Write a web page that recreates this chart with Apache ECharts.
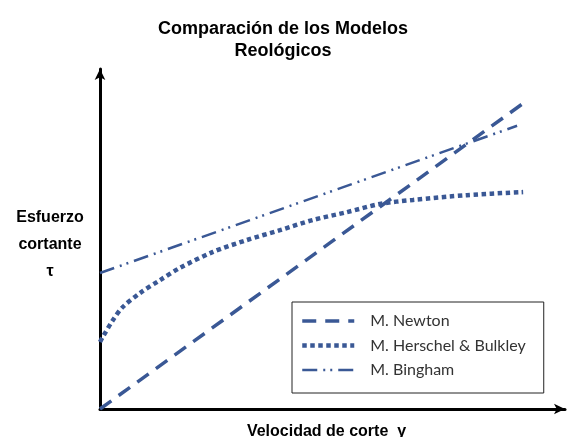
<!DOCTYPE html>
<html>
<head>
<meta charset="utf-8">
<script src="https://cdn.jsdelivr.net/npm/echarts@6/dist/echarts.min.js"></script>
<style>
  html, body { margin: 0; padding: 0; background: #fff; }
  #box { width: 571px; height: 437px; }
</style>
</head>
<body>
<div id="box"></div>
<script>
  // datos (unidades arbitrarias 0-100)
  const newton = [[0, 0], [90.8, 89.7]]
  const bingham = [[0, 40], [89.7, 83.3]]
  const hbX = [0, 0.6, 2.8, 4.9, 8.6, 12.9, 17.2, 24.3, 31.6, 38.7, 45.8, 53.1, 60.2, 67.3, 78.9, 91]
  const hbY = [19.7, 21.2, 26.2, 30, 34.1, 37.9, 41.5, 46.2, 49.7, 52.6, 55.6, 57.9, 60.3, 61.5, 62.9, 63.8]
  const names = ['M. Newton', 'M. Herschel & Bulkley', 'M. Bingham']

  const azul = '#3a5895'
  let myChart = echarts.init(document.getElementById('box'))
  let option = {
    animation: false,
    title: {
      text: 'Comparación de los Modelos\nReológicos',
      left: 278,
      top: 13,
      textAlign: 'center',
      textStyle: {
        fontFamily: 'Liberation Sans',
        fontSize: 18,
        fontWeight: 'bold',
        color: '#000',
        lineHeight: 22
      }
    },
    // nombre del eje y (como texto aparte para poder colocarlo bien)
    graphic: [{
      type: 'text',
      x: 50,
      y: 245,
      style: {
        text: 'Esfuerzo\ncortante\nτ',
        align: 'center',
        verticalAlign: 'middle',
        font: 'bold 16px "Liberation Sans"',
        lineHeight: 27,
        fill: '#000'
      }
    }],
    legend: {
      orient: 'vertical',
      left: 292,
      top: 302,
      padding: [11, 18, 15, 8],
      itemWidth: 52,
      itemHeight: 14,
      itemGap: 8.5,
      borderColor: '#222',
      borderWidth: 1,
      data: names,
      itemStyle: { opacity: 0 },
      lineStyle: { width: 'inherit' },
      textStyle: {
        fontFamily: 'Lato',
        fontSize: 16,
        color: '#333',
        padding: [0, 0, 0, 11]
      }
    },
    grid: { left: 100, right: 6, top: 69, bottom: 28, outerBoundsMode: 'none' },
    xAxis: {
      type: 'value',
      min: 0,
      max: 100,
      name: 'Velocidad de corte  γ',
      nameLocation: 'middle',
      nameGap: 15,
      nameTextStyle: {
        fontFamily: 'Liberation Sans',
        fontSize: 16,
        fontWeight: 'bold',
        color: '#000',
        padding: [0, 12, 0, 0]
      },
      axisLine: {
        show: true,
        symbol: ['none', 'arrow'],
        symbolSize: [8, 11],
        lineStyle: { color: '#000', width: 3 }
      },
      axisTick: { show: false },
      axisLabel: { show: false },
      splitLine: { show: false }
    },
    yAxis: {
      type: 'value',
      min: 0,
      max: 100,
      axisLine: {
        show: true,
        symbol: ['none', 'arrow'],
        symbolSize: [8, 11],
        lineStyle: { color: '#000', width: 3 }
      },
      axisTick: { show: false },
      axisLabel: { show: false },
      splitLine: { show: false }
    },
    series: [
      {
        name: names[0],
        type: 'line',
        data: newton,
        symbol: 'none',
        color: azul,
        lineStyle: { color: azul, width: 3.5, type: [14, 9], cap: 'butt' }
      },
      {
        name: names[1],
        type: 'line',
        data: hbX.map((x, i) => [x, hbY[i]]),
        symbol: 'none',
        smooth: 0.3,
        color: azul,
        lineStyle: { color: azul, width: 4.5, type: [4.5, 3.5], cap: 'butt' }
      },
      {
        name: names[2],
        type: 'line',
        data: bingham,
        symbol: 'none',
        color: azul,
        lineStyle: { color: azul, width: 2.5, type: [15, 6, 2, 5, 2, 6], cap: 'butt' }
      }
    ]
  }
  myChart.setOption(option)
</script>
</body>
</html>
